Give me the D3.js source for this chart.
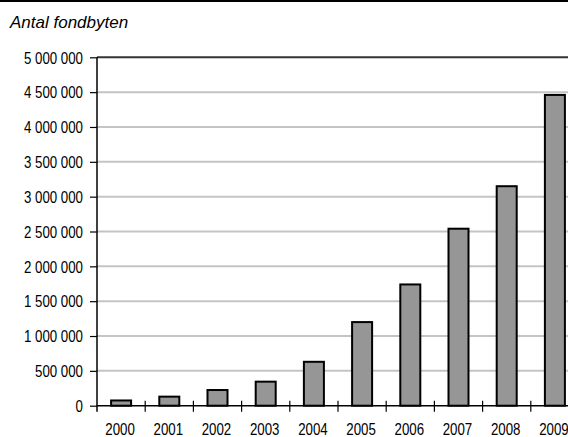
<!DOCTYPE html>
<html><head><meta charset="utf-8">
<script src="https://cdn.jsdelivr.net/npm/d3@7/dist/d3.min.js"></script>
<style>
html,body{margin:0;padding:0;background:#fff;}
svg{display:block;}
</style>
</head><body>
<svg id="chart" width="568" height="437"></svg>
<script>
const title = "Antal fondbyten";
const years = ["2000","2001","2002","2003","2004","2005","2006","2007","2008","2009"];
const values = [75000, 130000, 225000, 345000, 630000, 1200000, 1740000, 2540000, 3150000, 4460000];
const yTicks = [0, 500000, 1000000, 1500000, 2000000, 2500000, 3000000, 3500000, 4000000, 4500000, 5000000];

(function () {
const svg = d3.select("#chart");
const W = 568, H = 437;
const plotLeft = 97, plotTop = 57.3, plotBottom = 405.7;
const step = 48.2;
const sx = 0.83; // horizontal condensing of label font

const x = d3.scaleBand().domain(years).range([plotLeft, plotLeft + step * years.length]).paddingInner(0).paddingOuter(0);
const y = d3.scaleLinear().domain([0, 5000000]).range([plotBottom, plotTop]);

const labelFont = "'Liberation Sans',Arial,sans-serif";

// top rule
svg.append("line").attr("x1", 0).attr("x2", W).attr("y1", 1).attr("y2", 1)
  .attr("stroke", "#000").attr("stroke-width", 2);

// title
svg.append("text").attr("x", 10).attr("y", 28)
  .attr("font-family", "'Liberation Sans',Arial,sans-serif")
  .attr("font-style", "italic").attr("font-size", 17).attr("fill", "#000")
  .text(title);

// gridlines
svg.append("g").selectAll("line").data(yTicks.filter(d => d > 0)).join("line")
  .attr("x1", plotLeft).attr("x2", W)
  .attr("y1", d => y(d)).attr("y2", d => y(d))
  .attr("stroke", d => d === 5000000 ? "#333" : "#c4c4c4")
  .attr("stroke-width", 2);

// y axis
const fmt = d => d3.format(",")(d).replace(/,/g, " ");
const yAxis = d3.axisLeft(y).tickValues(yTicks).tickFormat(fmt).tickSize(7).tickPadding(6);
const gy = svg.append("g").attr("transform", `translate(${plotLeft},0)`).call(yAxis);
gy.select(".domain").attr("stroke", "#000").attr("stroke-width", 1.5).attr("d", `M0,${plotTop}V${plotBottom + 6}`);
gy.selectAll(".tick line").attr("stroke", "#000").attr("stroke-width", 1.2);
gy.selectAll(".tick text")
  .attr("font-family", labelFont).attr("font-size", 16).attr("fill", "#000")
  .attr("x", -14 / sx).attr("dy", "0.36em")
  .attr("transform", `scale(${sx},1)`);

// bars
const barW = x.bandwidth() * 0.415;
svg.append("g").selectAll("rect").data(years).join("rect")
  .attr("x", (d) => x(d) + x.bandwidth() / 2 - barW / 2)
  .attr("width", barW)
  .attr("y", (d, i) => y(values[i]))
  .attr("height", (d, i) => plotBottom - y(values[i]))
  .attr("fill", "#969696").attr("stroke", "#000").attr("stroke-width", 2);

// x axis line
svg.append("line").attr("x1", plotLeft).attr("x2", W).attr("y1", plotBottom).attr("y2", plotBottom)
  .attr("stroke", "#000").attr("stroke-width", 1.5);
// x boundary ticks
const boundaries = years.map(d => x(d) + x.bandwidth()).slice(0, years.length - 1);
svg.append("g").selectAll("line").data(boundaries).join("line")
  .attr("x1", d => d).attr("x2", d => d)
  .attr("y1", plotBottom - 5).attr("y2", plotBottom + 6)
  .attr("stroke", "#000").attr("stroke-width", 1.2);

// x labels
svg.append("g").selectAll("text").data(years).join("text")
  .attr("transform", d => `translate(${x(d) + x.bandwidth() / 2 - 1},435) scale(${sx},1)`)
  .attr("text-anchor", "middle")
  .attr("font-family", labelFont).attr("font-size", 16).attr("fill", "#000")
  .text(d => d);
})();
</script>
</body></html>
